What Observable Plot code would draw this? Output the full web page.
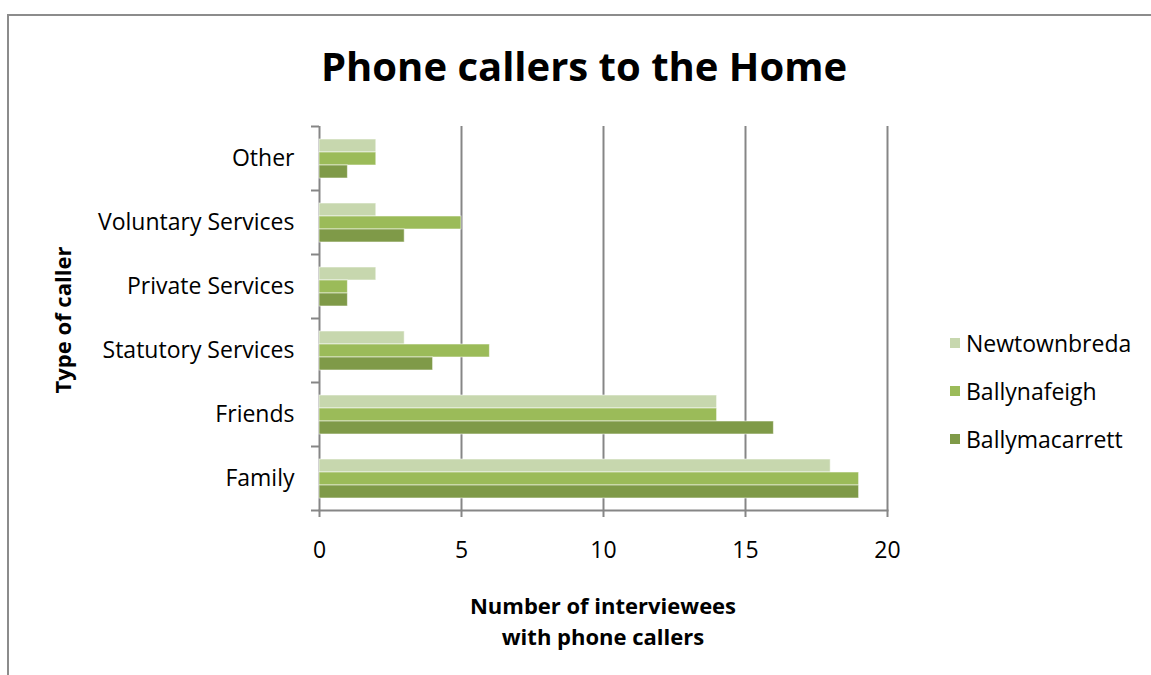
<!DOCTYPE html>
<html>
<head>
<meta charset="utf-8">
<script src="https://cdn.jsdelivr.net/npm/d3@7"></script>
<script src="https://cdn.jsdelivr.net/npm/@observablehq/plot@0.6"></script>
<style>
  html, body { margin: 0; padding: 0; background: #fff; }
  #wrap { position: relative; width: 1151px; height: 675px; overflow: hidden; font-family: "Open Sans", sans-serif; color: #000; }
  #border { position: absolute; left: 7px; top: 14px; width: 2000px; height: 2000px; border-left: 2px solid #8c8c8c; border-top: 2px solid #8c8c8c; }
  #chart { position: absolute; left: 0; top: 0; }
  .lbl { position: absolute; transform: translate(-50%, -50%); white-space: nowrap; text-align: center; }
  #title { left: 584px; top: 65px; font-size: 40px; font-weight: 700; }
  #xtitle { left: 603px; top: 621px; font-size: 22px; font-weight: 700; line-height: 31px; }
  #ytitle { left: 62px; top: 320px; font-size: 22px; font-weight: 700; transform: translate(-50%, -50%) rotate(-90deg); }
  #legend { position: absolute; left: 950px; top: 0; }
  .item { position: absolute; left: 0; white-space: nowrap; font-size: 23px; display: flex; align-items: center; transform: translateY(-50%); }
  .sw { width: 10px; height: 10px; margin-right: 6px; }
</style>
</head>
<body>
<div id="wrap">
  <div id="border"></div>
  <div id="chart"></div>
  <div id="title" class="lbl">Phone callers to the Home</div>
  <div id="xtitle" class="lbl">Number of interviewees<br>with phone callers</div>
  <div id="ytitle" class="lbl">Type of caller</div>
  <div id="legend"></div>
</div>
<script>
const categories = ["Other", "Voluntary Services", "Private Services", "Statutory Services", "Friends", "Family"];
const series = ["Newtownbreda", "Ballynafeigh", "Ballymacarrett"];
const newtownbreda = [2, 2, 2, 3, 14, 18];
const ballynafeigh = [2, 5, 1, 6, 14, 19];
const ballymacarrett = [1, 3, 1, 4, 16, 19];
const xTicks = [0, 5, 10, 15, 20];
const colors = ["#c7d7ae", "#9bbb59", "#7f9a48"];

const seriesValues = [newtownbreda, ballynafeigh, ballymacarrett];
const data = categories.flatMap((c, i) => series.map((s, j) => ({category: c, series: s, value: seriesValues[j][i]})));

const chart = Plot.plot({
  width: 1151,
  height: 675,
  marginTop: 126,
  marginBottom: 165,
  marginLeft: 319,
  marginRight: 264,
  style: {fontFamily: "'Open Sans', sans-serif", fontSize: "23px", color: "#000", background: "transparent"},
  x: {domain: [0, 20], ticks: xTicks, label: null, axis: null},
  y: {domain: series, paddingInner: 0, paddingOuter: 0.786, axis: null},
  fy: {domain: categories, padding: 0, axis: null, label: null},
  color: {domain: series, range: colors},
  marks: [
    Plot.ruleX(xTicks, {x: d => d, stroke: "#868686", strokeWidth: 2}),
    Plot.barX(data, {x: "value", y: "series", fy: "category", fill: "series", stroke: "#ffffff", strokeOpacity: 0.55, strokeWidth: 1}),
    Plot.frame({anchor: "bottom", facetAnchor: "bottom", stroke: "#868686", strokeWidth: 2}),
    Plot.axisX({ticks: xTicks, tickSize: 7, tickPadding: 24, stroke: "#868686", strokeWidth: 2, fontSize: 23, fill: "#000", label: null, tickFormat: d => d}),
    Plot.axisFy({anchor: "left", tickSize: 0, tickPadding: 25, fontSize: 23, fill: "#000", label: null}),
    Plot.axisFy({anchor: "left", tickSize: 8, tickFormat: null, dy: -32, stroke: "#868686", strokeWidth: 2, label: null}),
    Plot.axisFy({anchor: "left", ticks: ["Family"], tickSize: 8, tickFormat: null, dy: 32, stroke: "#868686", strokeWidth: 2, label: null})
  ]
});
document.getElementById("chart").appendChild(chart);

const legend = document.getElementById("legend");
const legendY = [343, 391, 439];
series.forEach((s, i) => {
  const it = document.createElement("div");
  it.className = "item";
  it.style.top = legendY[i] + "px";
  it.innerHTML = `<span class="sw" style="background:${colors[i]}"></span><span>${s}</span>`;
  legend.appendChild(it);
});
</script>
</body>
</html>
